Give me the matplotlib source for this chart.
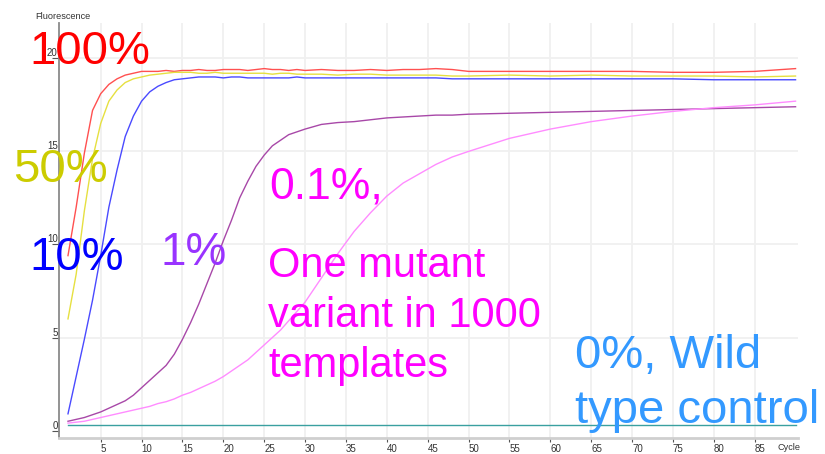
import matplotlib
matplotlib.use("Agg")
import matplotlib.pyplot as plt

W, H = 825, 454

# qPCR amplification curves (fluorescence vs cycle)
cycles = list(range(1, 31)) + [32, 34, 36, 38, 40, 42, 44, 46, 48, 50,
                               55, 60, 65, 70, 75, 80, 85, 90]

red_100 = [9.4, 12.0, 14.9, 17.2, 18.1, 18.6, 18.9, 19.1, 19.2, 19.3,
           19.3, 19.3, 19.35, 19.3, 19.35, 19.35, 19.4, 19.35, 19.35, 19.4,
           19.4, 19.4, 19.35, 19.4, 19.45, 19.4, 19.4, 19.35, 19.4, 19.35,
           19.4, 19.35, 19.35, 19.4, 19.35, 19.4, 19.4, 19.45, 19.4, 19.3,
           19.3, 19.3, 19.3, 19.3, 19.25, 19.25, 19.3, 19.45]
yellow_50 = [6.0, 8.4, 11.8, 14.6, 16.5, 17.7, 18.3, 18.7, 18.9, 19.0,
             19.1, 19.15, 19.2, 19.25, 19.25, 19.25, 19.2, 19.2, 19.25, 19.2,
             19.2, 19.2, 19.2, 19.2, 19.2, 19.15, 19.2, 19.2, 19.15, 19.15,
             19.15, 19.1, 19.15, 19.15, 19.1, 19.1, 19.1, 19.1, 19.05, 19.05,
             19.1, 19.05, 19.1, 19.05, 19.05, 19.05, 19.0, 19.05]
blue_10 = [0.9, 2.9, 4.9, 7.0, 9.4, 12.0, 14.0, 15.8, 16.9, 17.7,
           18.2, 18.5, 18.7, 18.85, 18.9, 18.95, 19.0, 19.0, 19.0, 18.95,
           19.0, 19.0, 18.95, 18.95, 18.95, 18.95, 18.95, 18.95, 19.0, 18.95,
           18.95, 18.95, 18.95, 18.95, 18.95, 18.95, 18.95, 18.95, 18.9, 18.9,
           18.9, 18.9, 18.9, 18.9, 18.9, 18.85, 18.85, 18.85]
purple_1 = [0.5, 0.6, 0.7, 0.85, 1.0, 1.2, 1.4, 1.6, 1.9, 2.3,
            2.7, 3.1, 3.5, 4.1, 4.9, 5.8, 6.8, 7.9, 9.0, 10.2,
            11.3, 12.5, 13.4, 14.2, 14.8, 15.3, 15.6, 15.9, 16.05, 16.2,
            16.45, 16.55, 16.6, 16.7, 16.8, 16.85, 16.9, 16.95, 16.95, 17.0,
            17.05, 17.1, 17.15, 17.2, 17.25, 17.3, 17.35, 17.4]
pink_01 = [0.4, 0.45, 0.5, 0.6, 0.7, 0.8, 0.9, 1.0, 1.1, 1.2,
           1.3, 1.45, 1.55, 1.7, 1.9, 2.05, 2.25, 2.45, 2.65, 2.9,
           3.2, 3.5, 3.8, 4.2, 4.6, 5.0, 5.4, 5.9, 6.4, 6.9,
           8.2, 9.5, 10.7, 11.7, 12.6, 13.3, 13.8, 14.3, 14.7, 15.0,
           15.7, 16.2, 16.6, 16.9, 17.15, 17.35, 17.5, 17.7]
teal_0 = [0.3] * len(cycles)

series = [
    (red_100, "#ff5050"),
    (yellow_50, "#e6e040"),
    (blue_10, "#4a4aff"),
    (purple_1, "#a848a8"),
    (pink_01, "#ff8cff"),
    (teal_0, "#3aa0a0"),
]

x_ticks = list(range(5, 90, 5))
y_ticks = [0, 5, 10, 15, 20]

# big annotation labels: text, colour, size, left x px, baseline y px, line step
labels = [
    (["100%"], "#ff0000", 34, 29, 64, 0),
    (["50%"], "#cccc00", 34, 13, 182, 0),
    (["10%"], "#0000ff", 34, 29, 270, 0),
    (["1%"], "#9933ff", 33, 161, 265, 0),
    (["0.1%,"], "#ff00ff", 32, 269, 198, 0),
    (["One mutant", "variant in 1000", "templates"], "#ff00ff", 30, 268, 277, 50),
    (["0%, Wild", "type control"], "#3399ff", 34, 575, 368, 55),
]


def main():
    plt.rcParams["font.family"] = ["Liberation Sans", "DejaVu Sans"]
    fig = plt.figure(figsize=(W / 100, H / 100), dpi=100)
    ax = fig.add_axes([59 / W, 1 - 438 / H, (798 - 59) / W, (438 - 23) / H])

    ax.set_xlim(-0.1, 90.3)
    ax.set_ylim(-0.4, 21.9)

    for x in x_ticks:
        ax.axvline(x, color="#f0f0f0", lw=1.3, zorder=0)
    for y in y_ticks[1:]:
        ax.axhline(y, color="#f0f0f0", lw=1.3, zorder=0)

    for vals, col in series:
        ax.plot(cycles, vals, "-", color=col, lw=1.0, zorder=2)

    for s in ("top", "right"):
        ax.spines[s].set_visible(False)
    ax.spines["left"].set_color("#8a8a8a")
    ax.spines["left"].set_linewidth(1.3)
    ax.spines["bottom"].set_color("#cfcfcf")
    ax.spines["bottom"].set_linewidth(2.0)

    ax.set_xticks(x_ticks)
    ax.set_xticklabels([str(v) for v in x_ticks])
    ax.set_yticks(y_ticks)
    ax.set_yticklabels([str(v) for v in y_ticks])
    ax.tick_params(axis="x", length=3, width=0.8, color="#555555", pad=1,
                   labelsize=7, labelcolor="#333333")
    ax.tick_params(axis="y", length=5, width=0.8, color="#555555", pad=-4,
                   labelsize=7, labelcolor="#333333")
    for lbl in ax.get_xticklabels():
        lbl.set_ha("left")
    for lbl in ax.get_yticklabels():
        lbl.set_va("bottom")

    fig.text(35 / W, 1 - 19 / H, "Fluorescence", fontsize=6.6, color="#333333",
             ha="left", va="baseline")
    fig.text(801 / W, 1 - 450 / H, "Cycle", fontsize=6.6, color="#333333",
             ha="right", va="baseline")

    for lines, col, size, x0, y0, step in labels:
        for i, line in enumerate(lines):
            fig.text(x0 / W, 1 - (y0 + i * step) / H, line, color=col,
                     fontsize=size, ha="left", va="baseline", zorder=5)

    fig.savefig("out.png", dpi=100)


if __name__ == "__main__":
    main()
